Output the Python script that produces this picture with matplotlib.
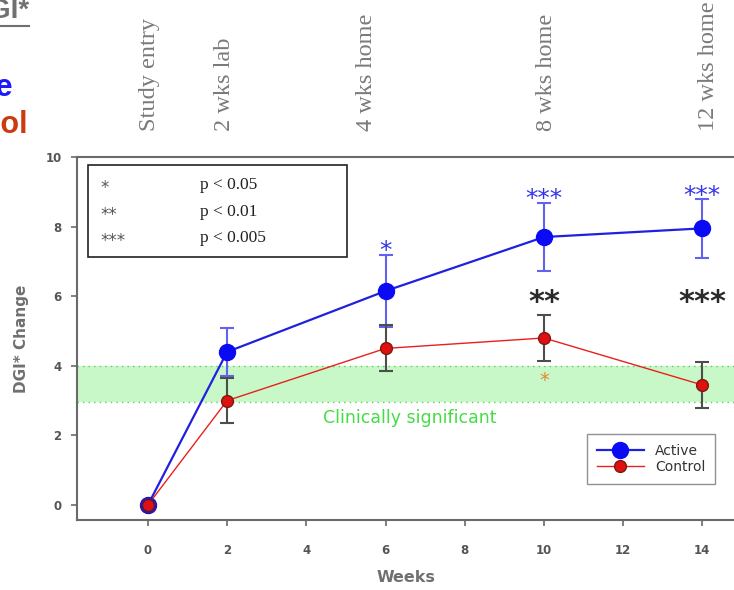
import numpy as np
import matplotlib
matplotlib.use("Agg")
import matplotlib.pyplot as plt
from matplotlib.patches import Rectangle
from matplotlib.lines import Line2D

weeks = [0, 2, 6, 10, 14]
active = [0.0, 4.4, 6.15, 7.7, 7.95]
active_err = [0.0, 0.68, 1.03, 0.98, 0.85]
control = [0.0, 3.0, 4.5, 4.8, 3.45]
control_err = [0.0, 0.65, 0.66, 0.67, 0.65]

band_low, band_high = 2.95, 4.0

# significance marks: (week, y, text, colour, size, weight)
sig_marks = [
    (6, 7.47, "*", "#3535e8", 18, "normal"),
    (10, 8.97, "***", "#3535e8", 18, "normal"),
    (14, 9.05, "***", "#3535e8", 18, "normal"),
    (10, 6.03, "**", "#2a2a2a", 22, "bold"),
    (14, 6.03, "***", "#2a2a2a", 22, "bold"),
    (10, 3.72, "*", "#e08a30", 14, "normal"),
]

top_labels = ["Study entry", "2 wks lab", "4 wks home", "8 wks home", "12 wks home"]
top_label_px = [150, 224, 366, 547, 709]

p_stars = ["*", "**", "***"]
p_texts = ["p < 0.05", "p < 0.01", "p < 0.005"]

W, H = 734, 590
fig = plt.figure(figsize=(W / 100, H / 100), dpi=100)
ax = fig.add_axes([77 / W, 1 - 520 / H, 1 - 77 / W, (520 - 157) / H])

grey = "#6a6a6a"

# clinically significant band
ax.axhspan(band_low, band_high, color="#c8f7c8", zorder=0, lw=0)
ax.axhline(band_low, color="#5ccf5c", ls=(0, (1, 3)), lw=1, zorder=1)
ax.axhline(band_high, color="#5ccf5c", ls=(0, (1, 3)), lw=1, zorder=1)
ax.text(6.6, 2.5, "Clinically significant", color="#44dd44", fontsize=12.5,
        ha="center", va="center", family="DejaVu Sans")

ax.errorbar(weeks[1:], active[1:], yerr=active_err[1:], fmt="none",
            ecolor="#6262ee", elinewidth=1.5, capsize=5, capthick=1.5, zorder=3)
ax.errorbar(weeks[1:], control[1:], yerr=control_err[1:], fmt="none",
            ecolor="#4a5048", elinewidth=1.5, capsize=5, capthick=1.5, zorder=3)

ax.plot(weeks, active, color="#2020e0", lw=1.6, marker="o", ms=11.5,
        mfc="#0a0af5", mec="#0a0af5", zorder=4, label="Active")
ax.plot(weeks, control, color="#e82020", lw=1.0, marker="o", ms=8.5,
        mfc="#e01010", mec="#7a1a10", mew=1.0, zorder=5, label="Control")
ax.plot([0], [0], marker="o", ms=10, mfc="none", mec="#3a1a80", mew=1.8, zorder=6)

# asterisks sit high in the glyph box, so shift them down by part of the font size
for wk, yv, txt, col, sz, wt in sig_marks:
    ax.annotate(txt, (wk, yv), xytext=(0, -0.52 * sz), textcoords="offset points",
                color=col, fontsize=sz, ha="center", va="baseline",
                fontweight=wt, family="DejaVu Sans")

ax.set_xlim(-1.79, 14.8)
ax.set_ylim(-0.43, 10)
ax.set_xticks(range(0, 15, 2))
ax.set_yticks(range(0, 11, 2))
ax.tick_params(colors=grey, labelcolor="#555555", length=4, width=1.2)
for lab in ax.get_xticklabels() + ax.get_yticklabels():
    lab.set_fontweight("bold")
    lab.set_fontsize(8.5)
ax.tick_params(axis="y", pad=7)
ax.tick_params(axis="x", pad=13)

for s in ["left", "bottom", "top"]:
    ax.spines[s].set_color(grey)
    ax.spines[s].set_linewidth(1.5)
ax.spines["right"].set_visible(False)

ax.set_xlabel("Weeks", fontsize=11.5, fontweight="bold", color="#707070", labelpad=10)
ax.set_ylabel("DGI* Change", fontsize=11, fontweight="bold", color="#707070", labelpad=12)

# p-value key
ax.add_patch(Rectangle((0.0167, 0.7245), 0.394, 0.2535, transform=ax.transAxes,
                       fill=False, ec="#222222", lw=1.2, zorder=6))
for i, (st, pt) in enumerate(zip(p_stars, p_texts)):
    yy = 1 - (185 + i * 26.5 - 157) / 363
    ax.annotate(st, ((100 - 77) / 657, yy), xycoords="axes fraction",
                xytext=(0, -6), textcoords="offset points", fontsize=12,
                color="#555555", va="baseline", family="DejaVu Sans")
    ax.text((200 - 77) / 657, yy, pt, transform=ax.transAxes, fontsize=12.5,
            color="#222222", va="center", family="Liberation Serif")

leg = ax.legend(loc="lower right", bbox_to_anchor=(0.982, 0.08), fontsize=10,
                frameon=True, fancybox=False, edgecolor="#777777",
                handlelength=3.4, borderpad=0.7, labelspacing=0.2)
leg.get_frame().set_linewidth(1.0)
for t in leg.get_texts():
    t.set_color("#333333")

# rotated phase labels along the top
for lab, px in zip(top_labels, top_label_px):
    fig.text(px / W, 1 - 131 / H, lab, rotation=90, ha="center", va="bottom",
             fontsize=17.5, color="#7a7a7a", family="Liberation Serif")

# clipped title fragments at the left edge
fig.text(29 / W, 1 - 11 / H, "DGI*", ha="right", va="center", fontsize=20,
         fontweight="bold", color="#707070", family="Liberation Sans")
fig.add_artist(Line2D([0, 29 / W], [1 - 26 / H, 1 - 26 / H], color="#707070", lw=1.5))
fig.text(13 / W, 1 - 88 / H, "Active", ha="right", va="center", fontsize=22,
         fontweight="bold", color="#1a1aff", family="Liberation Sans")
fig.text(28 / W, 1 - 125 / H, "Control", ha="right", va="center", fontsize=22,
         fontweight="bold", color="#cc3a10", family="Liberation Sans")

fig.savefig("out.png", dpi=100)
